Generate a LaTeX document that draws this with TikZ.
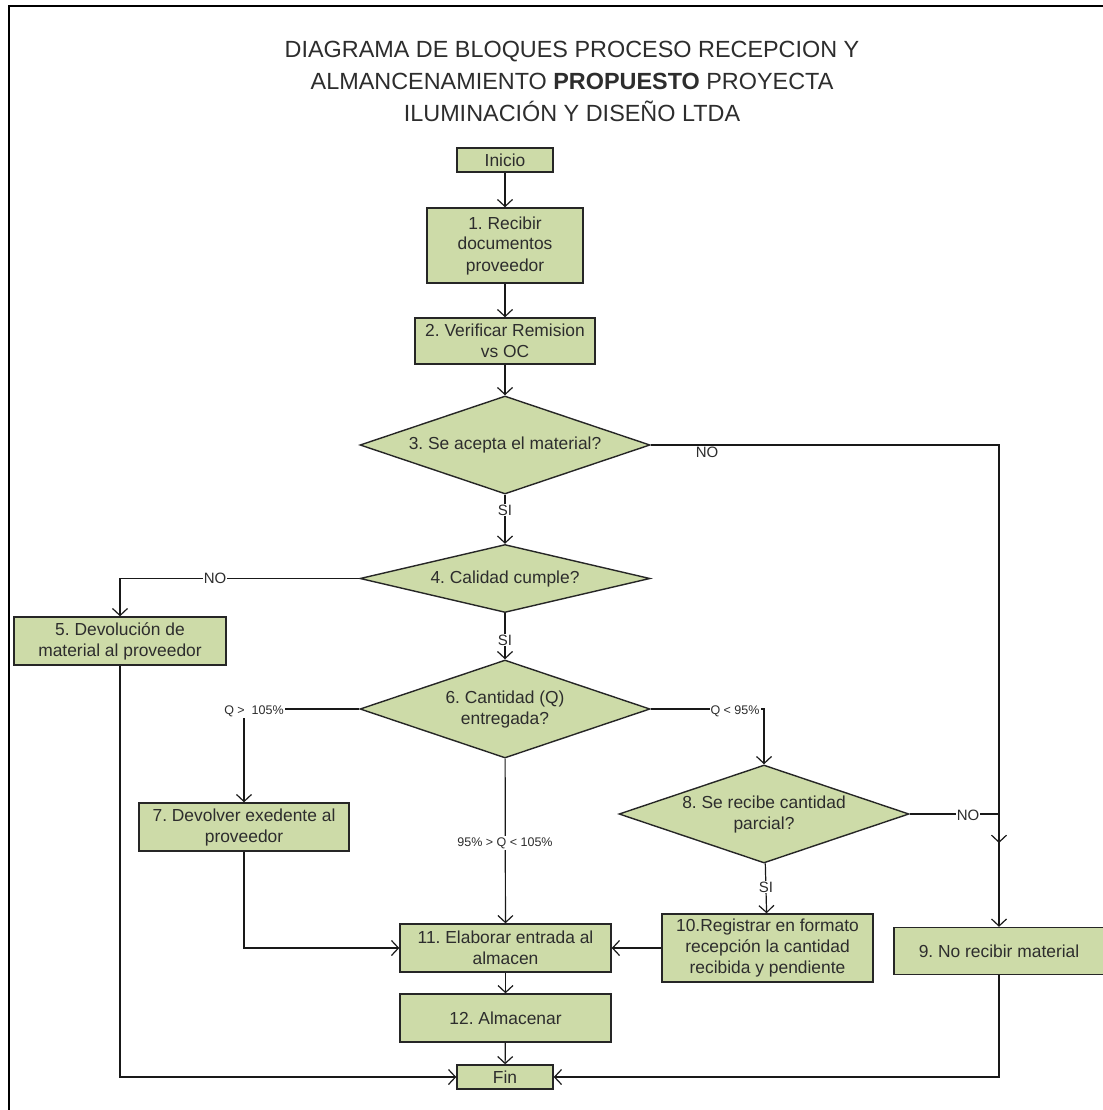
\documentclass[tikz,border=0pt]{standalone}
\usepackage{fontspec}
\setmainfont{Liberation Sans}
\usetikzlibrary{shapes.geometric,arrows.meta}
\definecolor{boxgreen}{RGB}{205,219,168}
\definecolor{inkgray}{RGB}{45,45,45}
\frenchspacing

\begin{document}
\begin{tikzpicture}[x=1pt,y=-1pt,
  proc/.style={draw=black!85, line width=1.4pt, fill=boxgreen, text=inkgray,
    align=center, inner sep=0pt, font=\fontsize{17.4}{21}\selectfont},
  dec/.style={diamond, aspect=2.96, draw=black!85, line width=1.4pt, fill=boxgreen,
    text=inkgray, align=center, inner sep=0pt, font=\fontsize{17.4}{21}\selectfont},
  flow/.style={draw=black!90, line width=1.2pt, -{Straight Barb[length=7pt,width=15pt]}},
  lbl/.style={fill=white, inner sep=1pt, text=inkgray, font=\fontsize{15}{15}\selectfont},
  small/.style={fill=white, inner sep=1pt, text=inkgray, font=\fontsize{12.5}{13}\selectfont},
]
\useasboundingbox (0,0) rectangle (1102,1110);
\fill[white] (0,0) rectangle (1102,1110);

% outer frame
\draw[line width=2.6pt] (9,1130) -- (9,6) -- (1130,6);

% title
\node[text=inkgray, align=center, font=\fontsize{23.4}{32}\selectfont] (title) at (572,81)
  {DIAGRAMA DE BLOQUES PROCESO RECEPCION Y\\
   ALMANCENAMIENTO \textbf{PROPUESTO} PROYECTA\\
   ILUMINACIÓN Y DISEÑO LTDA};

% process steps
\node[proc, minimum width=96, minimum height=24] (inicio) at (505,160) {Inicio};
\node[proc, minimum width=156, minimum height=75] (b1) at (505,245.5) {1. Recibir\\documentos\\proveedor};
\node[proc, minimum width=180, minimum height=46] (b2) at (505,341) {2. Verificar Remision\\vs OC};
\node[dec, minimum width=290, minimum height=98] (d3) at (505,445) {3. Se acepta el material?};
\node[dec, minimum width=290, minimum height=68] (d4) at (505,578.5) {4. Calidad cumple?};
\node[proc, minimum width=212, minimum height=48] (b5) at (120,641) {5. Devolución de\\material al proveedor};
\node[dec, minimum width=290, minimum height=98] (d6) at (505,709) {6. Cantidad (Q)\\entregada?};
\node[proc, minimum width=210, minimum height=48] (b7) at (244,827) {7. Devolver exedente al\\proveedor};
\node[dec, minimum width=290, minimum height=98] (d8) at (764,814) {8. Se recibe cantidad\\parcial?};
\node[proc, minimum width=210, minimum height=47] (b9) at (999,951) {9. No recibir material};
\node[proc, minimum width=211, minimum height=68] (b10) at (767.5,948) {10.Registrar en formato\\recepción la cantidad\\recibida y pendiente};
\node[proc, minimum width=211, minimum height=48] (b11) at (505.5,948) {11. Elaborar entrada al\\almacen};
\node[proc, minimum width=211, minimum height=48] (b12) at (505.5,1018) {12. Almacenar};
\node[proc, minimum width=96, minimum height=24] (fin) at (505,1077) {Fin};

\coordinate (join) at (999,843);

% connectors
\draw[flow] (inicio) -- (b1);
\draw[flow] (b1) -- (b2);
\draw[flow] (b2) -- (d3);
\draw[flow] (d3) -- (d4);
\draw[flow] (d3.east) -| (join);
\draw[flow] (d4.west) -| (b5.north);
\draw[flow] (d4) -- (d6);
\draw[flow] (d6.west) -| (b7.north);
\draw[flow] (d6.east) -| (d8.north);
\draw[flow] (d6) -- (b11);
\draw[flow] (d8.east) -| (b9.north);
\draw[flow] (d8) -- (b10);
\draw[flow] (b10) -- (b11);
\draw[flow] (b7.south) |- (b11.west);
\draw[flow] (b11) -- (b12);
\draw[flow] (b12) -- (fin);
\draw[flow] (b5.south) |- (fin.west);
\draw[flow] (b9.south) |- (fin.east);

% branch labels
\node[lbl] (no3) at (707,452) {NO};
\node[lbl] (si3) at (505,510) {SI};
\node[lbl] (no4) at (215,578.5) {NO};
\node[lbl] (si4) at (505,640) {SI};
\node[small] (qhigh) at (254,711) {Q >\ \ 105\%};
\node[small] (qlow) at (735,711) {Q < 95\%};
\node[small] (qok) at (505,843) {95\% > Q < 105\%};
\node[lbl] (no8) at (968,815) {NO};
\node[lbl] (si8) at (766,887) {SI};
\end{tikzpicture}
\end{document}
